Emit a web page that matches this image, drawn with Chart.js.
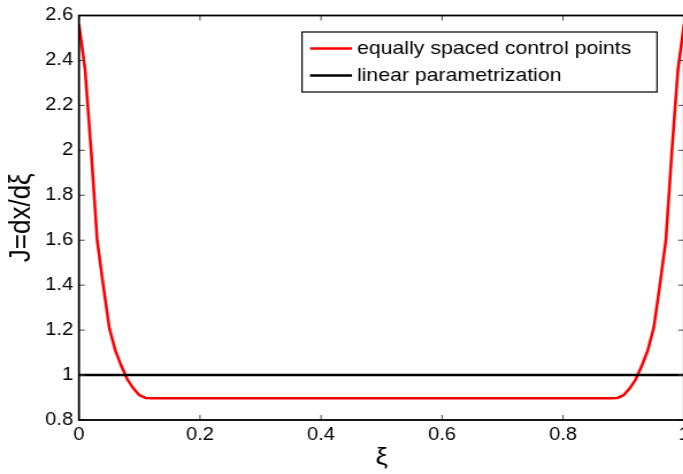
<!DOCTYPE html>
<html>
<head>
<meta charset="utf-8">
<script src="https://cdn.jsdelivr.net/npm/chart.js@4"></script>
<style>
  body { margin: 0; background: #fff; overflow: hidden; }
  #wrap { width: 683px; height: 474px; overflow: hidden; position: relative; }
  #plot { transform: scaleX(1.15); transform-origin: 0 0; }
</style>
</head>
<body>
<div id="wrap"><canvas id="plot" width="610" height="474"></canvas></div>
<script>
// ======================================
// DATOS
// ======================================

const xi = [0, 0.01, 0.02, 0.03, 0.04, 0.05, 0.06, 0.07, 0.08, 0.09, 0.10, 0.11, 0.12,
            0.2, 0.3, 0.4, 0.5, 0.6, 0.7, 0.8,
            0.88, 0.89, 0.90, 0.91, 0.92, 0.93, 0.94, 0.95, 0.96, 0.97, 0.98, 0.99, 1];
const jEqual = [2.56, 2.36, 2.0, 1.60, 1.40, 1.21, 1.11, 1.04, 0.98, 0.94, 0.91, 0.898, 0.897,
                0.897, 0.897, 0.897, 0.897, 0.897, 0.897, 0.897,
                0.897, 0.898, 0.91, 0.94, 0.98, 1.04, 1.11, 1.21, 1.40, 1.60, 2.0, 2.36, 2.56];

const xiLinear = [0, 1];
const jLinear = [1, 1];

const seriesNames = ["equally spaced control points", "linear parametrization"];
const xTicks = [0, 0.2, 0.4, 0.6, 0.8, 1];
const yTicks = [0.8, 1, 1.2, 1.4, 1.6, 1.8, 2, 2.2, 2.4, 2.6];

const FONT = "'Liberation Sans', Arial, Helvetica, sans-serif";

// ======================================
// MARCO, TICKS HACIA DENTRO Y LEYENDA
// ======================================

const marco = {
  id: "marco",
  afterDatasetsDraw(chart) {
    const ctx = chart.ctx;
    const a = chart.chartArea;
    const sx = chart.scales.x, sy = chart.scales.y;
    ctx.save();
    ctx.strokeStyle = "#444";
    ctx.lineWidth = 1;
    ctx.beginPath();
    sx.ticks.forEach(t => {
      const px = sx.getPixelForValue(t.value);
      ctx.moveTo(px, a.bottom); ctx.lineTo(px, a.bottom - 5);
      ctx.moveTo(px, a.top); ctx.lineTo(px, a.top + 5);
    });
    sy.ticks.forEach(t => {
      const py = sy.getPixelForValue(t.value);
      ctx.moveTo(a.left, py); ctx.lineTo(a.left + 5, py);
      ctx.moveTo(a.right, py); ctx.lineTo(a.right - 5, py);
    });
    ctx.stroke();
    ctx.strokeStyle = "#000";
    ctx.lineWidth = 1.8;
    ctx.strokeRect(a.left, a.top, a.right - a.left, a.bottom - a.top);
    ctx.restore();
  },
  afterDraw(chart) {
    const ctx = chart.ctx;
    const box = { x: 262.6, y: 32, w: 308.7, h: 60 };
    ctx.save();
    ctx.fillStyle = "#fff";
    ctx.fillRect(box.x, box.y, box.w, box.h);
    ctx.strokeStyle = "#000";
    ctx.lineWidth = 1.2;
    ctx.strokeRect(box.x, box.y, box.w, box.h);
    ctx.font = "18.5px " + FONT;
    ctx.textBaseline = "middle";
    chart.data.datasets.forEach((ds, i) => {
      const y = box.y + 16.5 + i * 27;
      ctx.strokeStyle = ds.borderColor;
      ctx.lineWidth = 2.5;
      ctx.beginPath();
      ctx.moveTo(box.x + 7, y);
      ctx.lineTo(box.x + 43.5, y);
      ctx.stroke();
      ctx.fillStyle = "#000";
      ctx.fillText(ds.label, box.x + 47.8, y + 0.5);
    });
    ctx.restore();
  }
};

// ======================================
// GRAFICO
// ======================================

new Chart(document.getElementById("plot"), {
  type: "line",
  data: {
    datasets: [{
      label: seriesNames[0],
      data: xi.map((v, i) => ({ x: v, y: jEqual[i] })),
      borderColor: "#ff0000",
      borderWidth: 2.6,
      pointRadius: 0,
      tension: 0,
      order: 1
    }, {
      label: seriesNames[1],
      data: xiLinear.map((v, i) => ({ x: v, y: jLinear[i] })),
      borderColor: "#000000",
      borderWidth: 2.6,
      pointRadius: 0,
      tension: 0,
      order: 0
    }]
  },
  options: {
    responsive: false,
    animation: false,
    layout: { padding: { top: 15, right: 15.2, left: 0, bottom: 0 } },
    plugins: { legend: { display: false }, tooltip: { enabled: false } },
    scales: {
      x: {
        type: "linear",
        min: 0, max: 1,
        afterBuildTicks: s => { s.ticks = xTicks.map(v => ({ value: v })); },
        afterFit: s => { s.height = 54; },
        grid: { display: false, drawTicks: false },
        border: { display: false },
        ticks: { color: "#000", padding: 5, maxRotation: 0, font: { family: FONT, size: 17.5 },
                 callback: v => String(v) },
        title: { display: true, text: "ξ", color: "#000", padding: { top: 0, bottom: 1 },
                 font: { family: FONT, size: 24 } }
      },
      y: {
        type: "linear",
        min: 0.8, max: 2.6,
        afterBuildTicks: s => { s.ticks = yTicks.map(v => ({ value: v })); },
        afterFit: s => { s.width = 68.7; },
        grid: { display: false, drawTicks: false },
        border: { display: false },
        ticks: { color: "#000", padding: 5, font: { family: FONT, size: 17.5 },
                 callback: v => String(v) },
        title: { display: true, text: "J=dx/dξ", color: "#000", padding: { top: 3, bottom: 0 },
                 font: { family: FONT, size: 26 } }
      }
    }
  },
  plugins: [marco]
});
</script>
</body>
</html>
